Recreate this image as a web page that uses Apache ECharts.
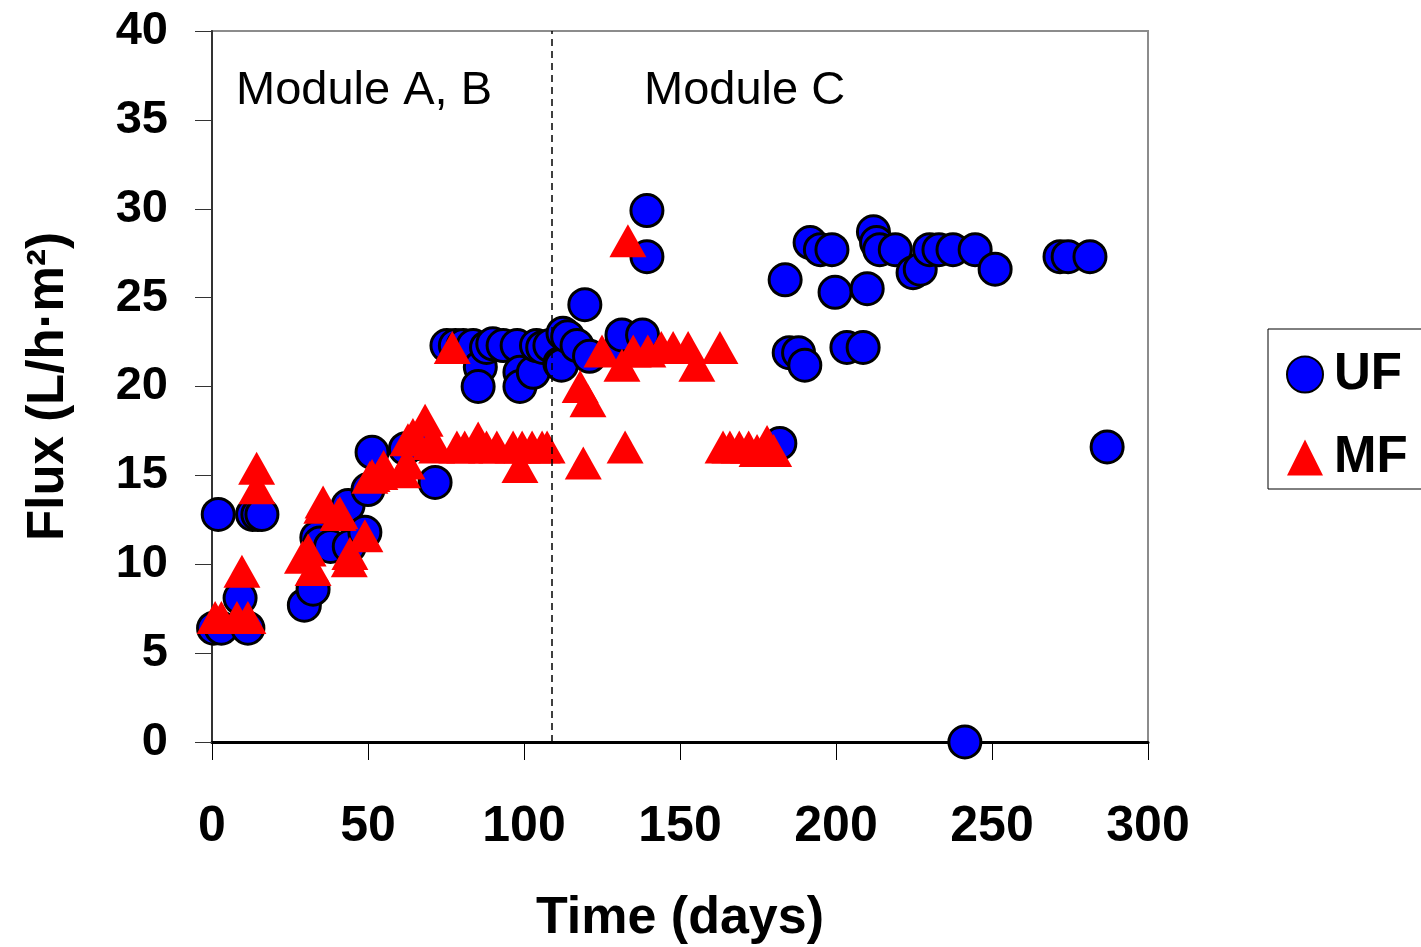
<!DOCTYPE html>
<html>
<head>
<meta charset="utf-8">
<script src="https://cdn.jsdelivr.net/npm/echarts@6/dist/echarts.min.js"></script>
<style>
html,body{margin:0;padding:0;background:#fff;}
#main{width:1421px;height:947px;}
</style>
</head>
<body>
<div id="main"></div>
<script>
// values: [time (days), flux (L/h.m2)]
var ufData = [
    [0.5,6.4],[3,6.4],[2,12.8],[9,8.1],[11.5,6.4],[13,12.8],[14.7,12.8],[16,12.8],
    [29.6,7.7],[32.4,8.6],[33.6,11.5],[34.6,11.2],[38,11.0],[43.6,13.3],[44,11.0],[49,11.8],
    [50,14.2],[51.3,16.3],[62,16.5],[66,16.8],[71.5,14.6],
    [75.3,22.3],[78,22.3],[80.5,22.3],[83.7,22.3],[86,21.1],[85.3,20.0],[88,22.2],[90,22.4],
    [93.3,22.3],[97.8,22.3],[98.7,20.8],[98.7,20.0],[103,20.8],[104,22.3],[106,22.2],[108.3,22.3],
    [111.5,21.3],[112,21.2],[112.5,23.0],[114,22.8],[117,22.3],[119.5,24.6],[121,21.7],
    [131,22.2],[131.4,22.9],[138,22.9],[139.4,29.9],[139.4,27.3],
    [182,16.8],[183.7,26.0],[185,21.9],[188,21.9],[190,21.2],[191.7,28.1],[195,27.7],[198.7,27.7],
    [199.7,25.3],[203.5,22.2],[208.7,22.2],[210,25.5],[212,28.7],[213,28.1],[214,27.7],[219,27.7],
    [224.7,26.4],[227,26.6],[230,27.7],[233,27.7],[237.5,27.7],[241.3,0],[244.6,27.7],[251,26.6],
    [271.8,27.3],[274.4,27.3],[281.4,27.3],[286.9,16.6]
];
var mfData = [
    [1,7.0],[3,7.0],[8,7.0],[11.5,7.0],[9.6,9.6],[14.3,15.4],[14.4,14.3],
    [29,10.4],[30.8,10.8],[32.4,9.7],[35.2,13.2],[35.6,13.5],[40.4,12.8],[41,12.9],[44.2,10.6],
    [44,10.2],[49,11.6],[50.6,14.9],[51.3,15.0],[53.8,15.1],[55,15.5],[61,15.2],[62.5,15.7],
    [62.8,17.0],[64.4,17.3],[68.3,18.1],[70,16.8],[72,16.6],
    [77,22.2],[78.5,16.6],[81,16.6],[85.3,17.1],[88,16.6],[91.3,16.6],[96.5,16.6],[99.4,16.6],
    [98.7,15.5],[102.6,16.6],[105.8,16.6],[107.4,16.6],
    [118,20.0],[119,15.7],[120.5,19.2],[125,22.0],[131.4,21.2],[132.4,16.6],[133.3,28.2],[135,22.0],
    [139.7,22.0],[144,22.2],[147.8,22.2],[152.6,22.2],[155.4,21.2],[162.8,22.2],[163.8,16.6],
    [166,16.6],[169,16.6],[172,16.6],[174.7,16.4],[177.9,16.9],[180,16.4]
];
var moduleSwitchDay = 109;
var xTicks = {min: 0, max: 300, step: 50};
var yTicks = {min: 0, max: 40, step: 5};

var chart = echarts.init(document.getElementById('main'));
var font = 'Liberation Sans, Arial, sans-serif';

var option = {
    animation: false,
    backgroundColor: '#fff',
    textStyle: {fontFamily: font},
    grid: {
        left: 212, right: 273, top: 31, bottom: 205,
        outerBoundsMode: 'none',
        containLabel: false,
        show: true, borderColor: '#8c8c8c', borderWidth: 2
    },
    legend: {
        orient: 'vertical',
        left: 1268, top: 329,
        borderColor: '#000', borderWidth: 1,
        padding: [20, 40, 6, 18],
        itemGap: 32,
        itemWidth: 36, itemHeight: 36,
        textStyle: {fontFamily: font, fontSize: 51, fontWeight: 'bold', color: '#000', padding: [0, 0, 0, 6]},
        data: ['UF', 'MF']
    },
    xAxis: {
        type: 'value',
        min: xTicks.min, max: xTicks.max, interval: xTicks.step,
        name: 'Time (days)',
        nameLocation: 'middle',
        nameGap: 151,
        nameTextStyle: {fontFamily: font, fontSize: 52, fontWeight: 'bold', color: '#000'},
        axisLine: {show: true, onZero: false, lineStyle: {color: '#000', width: 3}},
        axisTick: {show: true, inside: false, length: 18, lineStyle: {color: '#000', width: 1}},
        axisLabel: {margin: 60, fontFamily: font, fontSize: 50, fontWeight: 'bold', color: '#000'},
        splitLine: {show: false}
    },
    yAxis: {
        type: 'value',
        min: yTicks.min, max: yTicks.max, interval: yTicks.step,
        name: 'Flux (L/h·m²)',
        nameLocation: 'middle',
        nameGap: 138,
        nameTextStyle: {fontFamily: font, fontSize: 51, fontWeight: 'bold', color: '#000'},
        axisLine: {show: true, lineStyle: {color: '#333', width: 2}},
        axisTick: {show: true, inside: false, length: 17, lineStyle: {color: '#333', width: 1}},
        axisLabel: {margin: 44, fontFamily: font, fontSize: 47, fontWeight: 'bold', color: '#000'},
        splitLine: {show: false}
    },
    graphic: [
        {type: 'text', left: 236, top: 68,
         style: {text: 'Module A, B', font: '47px ' + font, fill: '#000'}},
        {type: 'text', left: 644, top: 68,
         style: {text: 'Module C', font: '47px ' + font, fill: '#000'}}
    ],
    series: [
        {
            name: 'UF',
            type: 'scatter',
            symbol: 'circle',
            symbolSize: 32,
            itemStyle: {color: '#0000ff', borderColor: '#000', borderWidth: 3, opacity: 1},
            data: ufData,
            markLine: {
                silent: true,
                symbol: 'none',
                label: {show: false},
                lineStyle: {color: '#000', type: [7, 5], width: 1.5},
                data: [{xAxis: moduleSwitchDay}]
            }
        },
        {
            name: 'MF',
            type: 'scatter',
            symbol: 'triangle',
            symbolSize: [37, 33],
            itemStyle: {color: '#ff0000', opacity: 1},
            data: mfData
        }
    ]
};

chart.setOption(option);
window.addEventListener('resize', function () { chart.resize(); });
</script>
</body>
</html>
